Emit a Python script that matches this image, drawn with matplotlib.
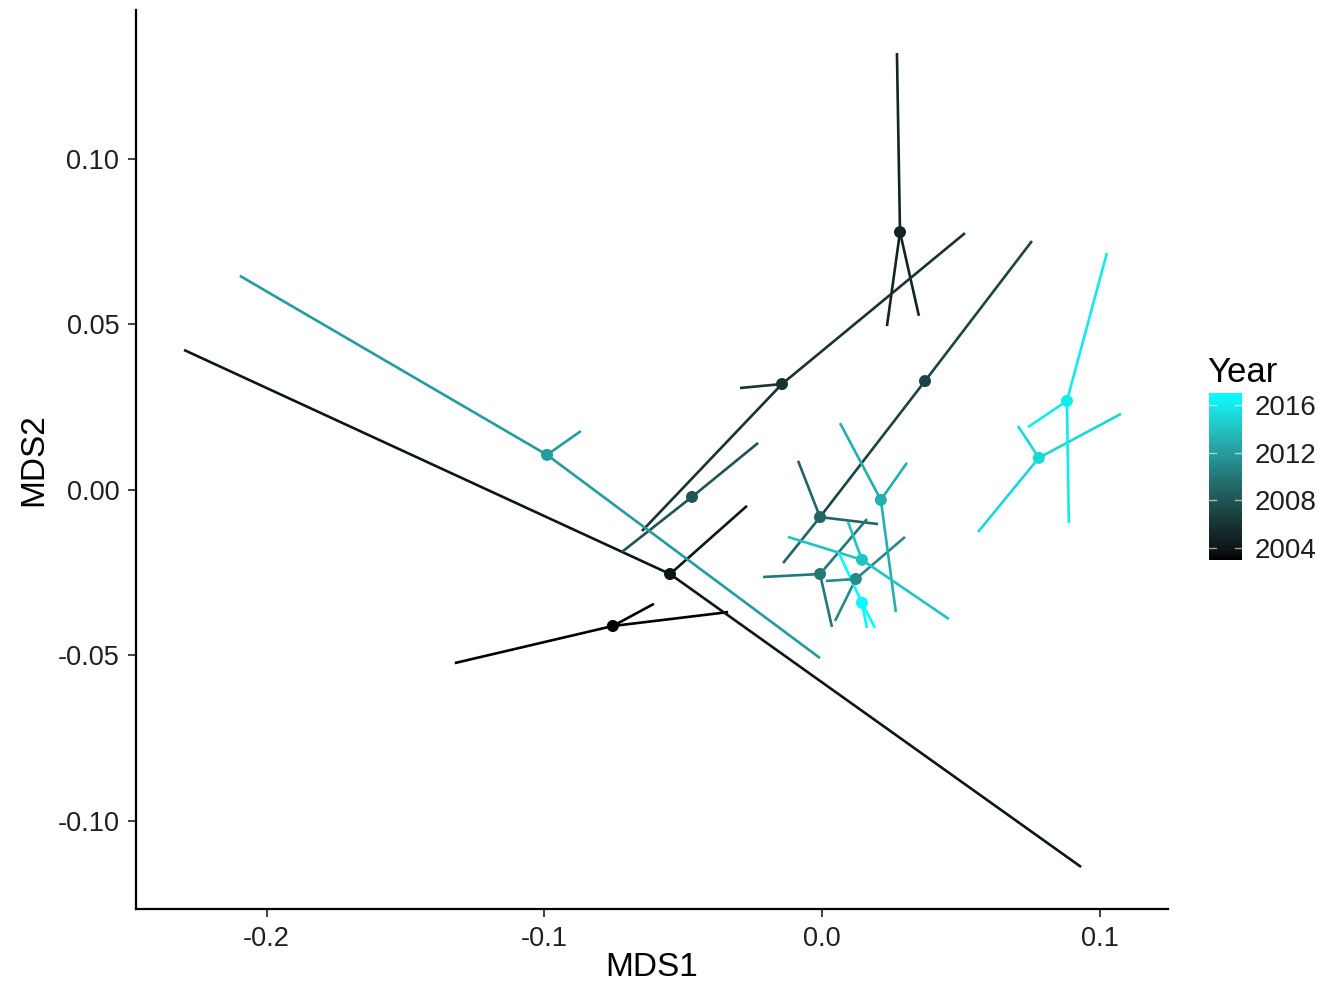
import numpy as np
import matplotlib
matplotlib.use("Agg")
from matplotlib import pyplot as plt
from matplotlib.colors import ListedColormap, Normalize
from matplotlib.cm import ScalarMappable

plt.rcParams['font.family'] = ['Liberation Sans', 'DejaVu Sans']

# year centroids in MDS space
years = [2003, 2004, 2005, 2006, 2007, 2008, 2009, 2010,
         2011, 2012, 2013, 2014, 2015, 2016, 2017]
mds1 = [-0.0753, -0.0547, 0.0281, -0.0144, 0.0371, -0.0468, -0.0007, -0.0007,
        0.0122, -0.0990, 0.0212, 0.0144, 0.0781, 0.0882, 0.0144]
mds2 = [-0.0411, -0.0254, 0.0779, 0.0320, 0.0329, -0.0021, -0.0082, -0.0254,
        -0.0269, 0.0106, -0.0030, -0.0211, 0.0097, 0.0269, -0.0341]

# site scores for each year (spider ends)
site_x = [
    [-0.1322, -0.0338, -0.0605],
    [-0.2297, 0.0933, -0.0270],
    [0.0270, 0.0234, 0.0349],
    [0.0515, -0.0648, -0.0295],
    [0.0756, -0.0007],
    [-0.0230, -0.0720],
    [-0.0086, 0.0202, -0.0140],
    [-0.0212, 0.0036, 0.0162],
    [0.0299, 0.0014, 0.0047],
    [-0.2096, -0.0007, -0.0868],
    [0.0065, 0.0306, 0.0266],
    [-0.0122, 0.0457, 0.0094],
    [0.1077, 0.0562, 0.0706],
    [0.1026, 0.0889, 0.0742],
    [0.0061, 0.0162, 0.0191],
]
site_y = [
    [-0.0523, -0.0369, -0.0344],
    [0.0423, -0.1139, -0.0048],
    [0.1320, 0.0495, 0.0526],
    [0.0776, -0.0124, 0.0308],
    [0.0752, -0.0082],
    [0.0142, -0.0187],
    [0.0088, -0.0103, -0.0221],
    [-0.0263, -0.0414, -0.0088],
    [-0.0142, -0.0275, -0.0396],
    [0.0647, -0.0508, 0.0178],
    [0.0202, 0.0082, -0.0369],
    [-0.0142, -0.0390, -0.0097],
    [0.0230, -0.0127, 0.0193],
    [0.0716, -0.0100, 0.0190],
    [-0.0190, -0.0417, -0.0417],
]

x_ticks = [-0.2, -0.1, 0.0, 0.1]
y_ticks = [-0.10, -0.05, 0.00, 0.05, 0.10]
bar_ticks = [2004, 2008, 2012, 2016]


def lab_to_rgb(L, a, b):
    fy = (L + 16) / 116
    fx = fy + a / 500
    fz = fy - b / 200
    def finv(t):
        return np.where(t > 6 / 29, t ** 3, 3 * (6 / 29) ** 2 * (t - 4 / 29))
    X = 0.95047 * finv(fx)
    Y = 1.0 * finv(fy)
    Z = 1.08883 * finv(fz)
    r = 3.2406 * X - 1.5372 * Y - 0.4986 * Z
    g = -0.9689 * X + 1.8758 * Y + 0.0415 * Z
    bb = 0.0557 * X - 0.2040 * Y + 1.0570 * Z
    rgb = np.stack([r, g, bb], axis=-1)
    rgb = np.clip(rgb, 0, 1)
    return np.where(rgb > 0.0031308, 1.055 * rgb ** (1 / 2.4) - 0.055, 12.92 * rgb)


# black -> cyan gradient interpolated in Lab
t = np.linspace(0, 1, 256)
cyan_lab = (91.11, -48.09, -14.13)
grad = lab_to_rgb(t * cyan_lab[0], t * cyan_lab[1], t * cyan_lab[2])
cmap = ListedColormap(grad)
norm = Normalize(min(years), max(years))

fig = plt.figure(figsize=(13.19, 9.86), dpi=100)
ax = fig.add_axes([136 / 1319, 1 - 909 / 986, 1032 / 1319, 899 / 986])

for i, yr in enumerate(years):
    col = cmap(norm(yr))
    for sx, sy in zip(site_x[i], site_y[i]):
        ax.plot([mds1[i], sx], [mds2[i], sy], color=col, lw=1.9,
                solid_capstyle='butt', zorder=2)
ax.scatter(mds1, mds2, c=[cmap(norm(y)) for y in years], s=75,
           linewidths=0, zorder=3)

ax.set_xlim(-0.2470, 0.1246)
ax.set_ylim(-0.1266, 0.1450)
ax.set_xticks(x_ticks)
ax.set_xticklabels(['-0.2', '-0.1', '0.0', '0.1'])
ax.set_yticks(y_ticks)
ax.set_yticklabels(['-0.10', '-0.05', '0.00', '0.05', '0.10'])
ax.tick_params(labelsize=19.5, length=6, width=1.3, color='#333333',
               labelcolor='#1e1e1e', pad=6)
for side in ['top', 'right']:
    ax.spines[side].set_visible(False)
for side in ['left', 'bottom']:
    ax.spines[side].set_linewidth(1.6)

# axis titles
fig.text(652 / 1319, 1 - 968 / 986, 'MDS1', fontsize=24, ha='center',
         va='center')
fig.text(34 / 1319, 1 - 460 / 986, 'MDS2', fontsize=24, ha='center',
         va='center', rotation=90)

# colour bar legend
cax = fig.add_axes([1209 / 1319, 1 - 560 / 986, 33 / 1319, 167 / 986])
cb = fig.colorbar(ScalarMappable(norm=norm, cmap=cmap), cax=cax,
                  ticks=bar_ticks)
cb.outline.set_visible(False)
cax.tick_params(length=0, labelsize=20, pad=9, labelcolor='#1e1e1e')
for tk in bar_ticks:
    cax.plot([0, 0.2], [tk, tk], transform=cax.get_yaxis_transform(),
             color='white', lw=1, alpha=0.6)
    cax.plot([0.8, 1.0], [tk, tk], transform=cax.get_yaxis_transform(),
             color='white', lw=1, alpha=0.6)
fig.text(1207 / 1319, 1 - 372 / 986, 'Year', fontsize=25, va='center',
         ha='left')

fig.savefig('out.png', dpi=100)
